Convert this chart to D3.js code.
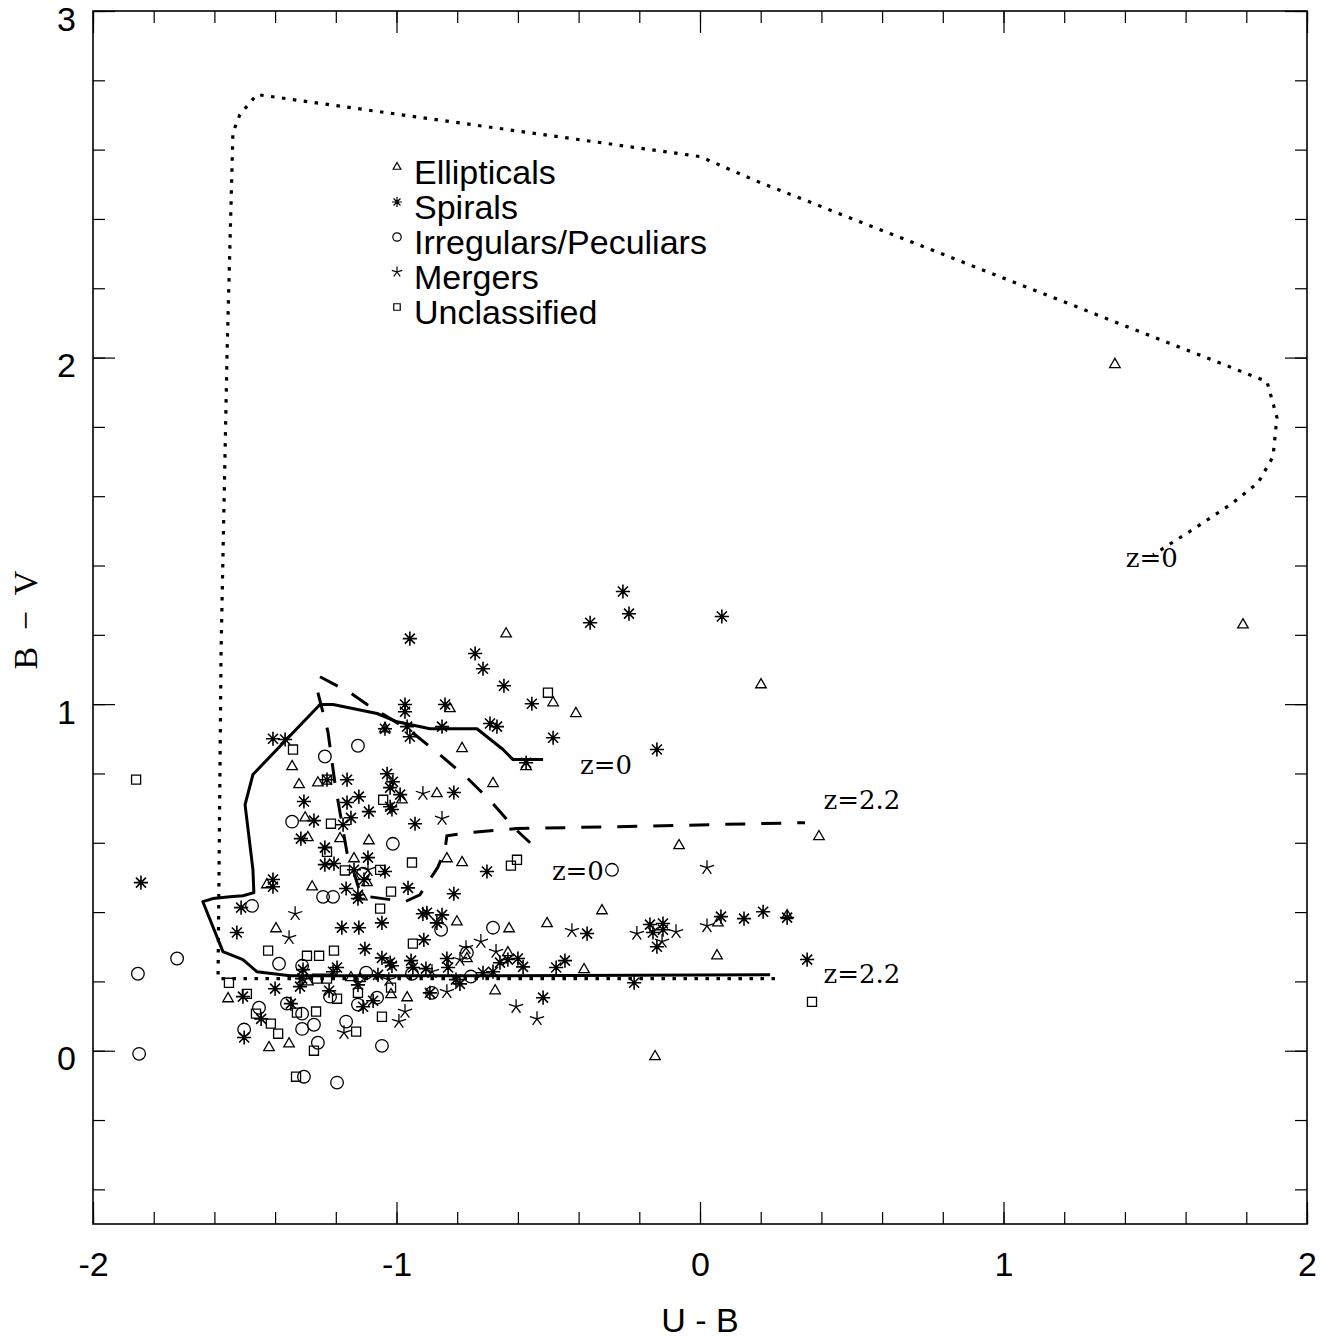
<!DOCTYPE html>
<html>
<head>
<meta charset="utf-8">
<script src="https://cdnjs.cloudflare.com/ajax/libs/d3/7.8.5/d3.min.js"></script>
<style>
  body { margin: 0; background: #fff; }
</style>
</head>
<body>
<div id="chart"></div>
<script>
// points, [U-B, B-V]
var ellipticals = [[1.367,1.980],[1.789,1.229],[0.201,1.056],[-0.639,1.203],[-0.484,1.004],[-0.409,0.973],
  [-0.824,0.987],[-1.038,0.929],[-0.784,0.872],[-0.573,0.820],[-0.682,0.771],[-1.344,0.820],[-1.321,0.768],
  [-1.259,0.773],[-0.982,0.724],[-0.867,0.742],[-1.301,0.672],[-1.292,0.615],[-1.186,0.612],[-1.091,0.606],
  [-1.140,0.554],[-0.834,0.554],[-0.784,0.543],[-1.097,0.485],[-1.427,0.479],[-1.278,0.473],[-1.114,0.444],
  [-1.397,0.352],[-0.801,0.372],[-0.629,0.352],[-0.504,0.367],[-0.323,0.404],[-0.069,0.592],[0.392,0.618],
  [-0.768,0.266],[-0.633,0.283],[-0.382,0.234],[0.059,0.369],[0.287,0.390],[0.056,0.274],[-1.292,0.199],
  [-1.150,0.211],[-1.120,0.208],[-1.555,0.150],[-1.018,0.162],[-0.965,0.153],[-0.675,0.173],[-1.420,0.009],
  [-1.354,0.020],[-0.148,-0.017]];

var spirals = [[-1.842,0.485],[-0.254,1.325],[-0.234,1.261],[0.072,1.253],[-0.362,1.235],[-0.956,1.189],
  [-0.741,1.146],[-0.715,1.102],[-0.646,1.053],[-0.554,1.001],[-0.972,0.999],[-0.972,0.978],[-0.840,0.999],
  [-1.038,0.929],[-0.965,0.935],[-0.956,0.906],[-0.850,0.935],[-0.692,0.944],[-0.669,0.935],[-0.484,0.903],
  [-0.573,0.831],[-0.142,0.869],[-1.407,0.900],[-1.367,0.898],[-1.229,0.782],[-1.163,0.782],[-1.031,0.799],
  [-1.012,0.776],[-1.021,0.759],[-0.988,0.739],[-1.021,0.704],[-1.015,0.696],[-0.811,0.745],[-1.305,0.719],
  [-1.163,0.716],[-1.124,0.733],[-1.091,0.690],[-0.939,0.655],[-1.272,0.664],[-1.176,0.652],[-1.150,0.672],
  [-1.315,0.612],[-1.236,0.586],[-1.094,0.557],[-1.236,0.537],[-1.206,0.540],[-1.140,0.522],[-1.038,0.517],
  [-0.702,0.517],[-1.107,0.494],[-1.407,0.494],[-1.407,0.473],[-1.166,0.468],[-1.127,0.450],[-1.127,0.439],
  [-0.962,0.470],[-0.811,0.453],[-1.512,0.413],[-1.526,0.341],[-1.180,0.355],[-1.124,0.355],[-1.048,0.369],
  [-0.913,0.395],[-0.900,0.398],[-0.850,0.392],[-0.867,0.369],[-0.910,0.320],[-1.104,0.294],[-1.048,0.268],
  [-1.021,0.254],[-1.015,0.245],[-0.952,0.260],[-0.946,0.240],[-0.903,0.237],[-0.834,0.266],[-0.830,0.240],
  [-0.659,0.254],[-0.633,0.263],[-0.600,0.266],[-0.583,0.242],[-0.715,0.225],[-0.682,0.228],[-0.804,0.205],
  [-0.791,0.193],[-0.474,0.240],[-0.445,0.260],[-0.372,0.338],[-0.165,0.364],[-0.122,0.367],[-0.155,0.341],
  [-0.122,0.349],[-0.142,0.300],[0.069,0.387],[0.145,0.381],[0.208,0.401],[0.287,0.384],[0.353,0.263],
  [-0.217,0.196],[-1.308,0.234],[-1.311,0.208],[-1.318,0.185],[-1.209,0.228],[-1.196,0.240],[-1.127,0.190],
  [-1.061,0.219],[-1.506,0.156],[-1.400,0.179],[-1.446,0.092],[-1.502,0.038],[-1.348,0.136],[-1.222,0.173],
  [-1.110,0.127],[-1.077,0.144],[-0.890,0.167],[-0.517,0.153]];

var irregulars = [[-1.852,0.222],[-1.723,0.266],[-1.848,-0.009],[-1.236,0.849],[-1.127,0.880],[-1.344,0.661],
  [-1.012,0.597],[-1.110,0.511],[-1.242,0.444],[-1.209,0.444],[-1.476,0.418],[-0.290,0.522],[-0.853,0.349],
  [-0.682,0.355],[-0.768,0.283],[-0.755,0.214],[-0.949,0.222],[-1.100,0.225],[-1.387,0.251],[-1.311,0.245],
  [-1.361,0.136],[-1.453,0.124],[-1.502,0.061],[-1.311,0.107],[-1.311,0.063],[-1.272,0.075],[-1.259,0.023],
  [-1.305,-0.075],[-1.196,-0.092],[-1.219,0.156],[-1.127,0.133],[-1.064,0.153],[-1.166,0.084],[-1.048,0.014],
  [-0.883,0.167]];

var mergers = [[-0.913,0.742],[-0.850,0.670],[-1.094,0.522],[-1.334,0.395],[-1.354,0.326],[-0.722,0.315],
  [-0.771,0.297],[-0.791,0.263],[-0.672,0.286],[-0.883,0.228],[-0.422,0.346],[-0.208,0.338],[-0.079,0.343],
  [-0.125,0.315],[0.023,0.360],[0.023,0.528],[-1.025,0.205],[-0.972,0.113],[-0.992,0.084],[-0.834,0.170],
  [-1.173,0.052],[-0.606,0.127],[-0.537,0.092]];

var unclassified = [[-1.858,0.782],[-1.341,0.869],[-0.501,1.033],[-1.229,0.782],[-1.044,0.724],[-1.216,0.655],
  [-1.229,0.574],[-0.949,0.543],[-1.170,0.520],[-1.054,0.522],[-1.018,0.459],[-1.054,0.410],[-0.946,0.309],
  [-0.623,0.534],[-0.603,0.551],[-1.423,0.289],[-1.206,0.289],[-1.295,0.274],[-1.255,0.274],[-1.262,0.208],
  [-1.229,0.208],[-1.552,0.196],[-1.493,0.164],[-1.463,0.107],[-1.414,0.078],[-1.390,0.049],[-1.328,0.110],
  [-1.265,0.113],[-1.272,0.000],[-1.331,-0.075],[-1.196,0.150],[-1.127,0.167],[-1.018,0.182],[-1.048,0.098],
  [-1.133,0.055],[0.369,0.141]];

// model tracks
var solidTrack = [[0.231,0.219],[-0.857,0.216],[-1.351,0.216],[-1.460,0.228],[-1.506,0.263],[-1.572,0.286],
  [-1.638,0.430],[-1.605,0.439],[-1.549,0.444],[-1.506,0.447],[-1.470,0.456],[-1.473,0.522],[-1.499,0.710],
  [-1.473,0.797],[-1.252,0.999],[-1.209,0.999],[-1.064,0.973],[-0.998,0.949],[-0.890,0.929],[-0.735,0.929],
  [-0.649,0.869],[-0.616,0.840],[-0.517,0.840]];
var dashTrackA = [[-1.252,1.079],[-1.153,1.033],[-1.097,0.999],[-0.956,0.924],[-0.857,0.854],[-0.768,0.788],
  [-0.685,0.716],[-0.610,0.641],[-0.560,0.600]];
var dashTrackB = [[-1.259,1.033],[-1.226,0.921],[-1.203,0.773],[-1.163,0.571],[-1.143,0.522],[-1.120,0.456],
  [-1.087,0.444],[-0.972,0.430],[-0.923,0.450],[-0.890,0.494],[-0.863,0.531],[-0.840,0.580],[-0.834,0.620],
  [-0.768,0.629],[-0.603,0.641],[-0.297,0.646],[0.346,0.658]];
var dotTrack = [[0.247,0.208],[-1.588,0.208],[-1.578,1.157],[-1.558,2.023],[-1.539,2.649],[-1.516,2.701],
  [-1.460,2.759],[0.000,2.580],[0.198,2.505],[1.868,1.931],[1.901,1.827],[1.888,1.714],[1.839,1.639],
  [1.753,1.579],[1.624,1.504],[1.493,1.431]];

var trackLabels = [["z=0",-0.395,0.798],["z=2.2",0.407,0.697],["z=0",-0.488,0.494],["z=2.2",0.407,0.196],["z=0",1.403,1.397]];

var legendNames = ["Ellipticals","Spirals","Irregulars/Peculiars","Mergers","Unclassified"];
var xTicks = [-2,-1,0,1,2];
var yTicks = [0,1,2,3];

var width = 1337, height = 1340;
var plotLeft = 93, plotRight = 1307, plotTop = 11, plotBottom = 1224;

var x = d3.scaleLinear().domain([-2,2]).range([plotLeft,plotRight]);
var y = d3.scaleLinear().domain([-0.5,3]).range([plotBottom,plotTop]);

var svg = d3.select('#chart').append('svg')
            .attr('width',width)
            .attr('height',height)
            .style('font-family','"Liberation Sans", Arial, sans-serif');

// custom symbols: spoked asterisks
function spokes(n, rot){
  return {
    draw: function(ctx, size){
      var r = Math.sqrt(size);
      for (var i=0; i<n; i++){
        var a = rot + i*2*Math.PI/n;
        ctx.moveTo(0,0);
        ctx.lineTo(r*Math.sin(a), -r*Math.cos(a));
      }
    }
  };
}
var spiralType = spokes(8, 0);
var mergerType = spokes(5, 0);

var kinds = [
  {data: ellipticals, type: d3.symbolTriangle, size: 48, lsize: 26, sw: 1.3},
  {data: spirals, type: spiralType, size: 50, lsize: 24, sw: 1.6},
  {data: irregulars, type: d3.symbolCircle, size: 125, lsize: 55, sw: 1.3},
  {data: mergers, type: mergerType, size: 56, lsize: 30, sw: 1.3},
  {data: unclassified, type: d3.symbolSquare, size: 82, lsize: 42, sw: 1.3}
];

// minor ticks
var minorX = d3.range(-2,2.001,0.2);
var minorY = d3.range(-0.4,3.001,0.2);
svg.append('g').attr('transform','translate(0,'+plotBottom+')')
   .call(d3.axisBottom(x).tickValues(minorX).tickSize(-12).tickFormat(''));
svg.append('g').attr('transform','translate(0,'+plotTop+')')
   .call(d3.axisTop(x).tickValues(minorX).tickSize(-12).tickFormat(''));
svg.append('g').attr('transform','translate('+plotLeft+',0)')
   .call(d3.axisLeft(y).tickValues(minorY).tickSize(-12).tickFormat(''));
svg.append('g').attr('transform','translate('+plotRight+',0)')
   .call(d3.axisRight(y).tickValues(minorY).tickSize(-12).tickFormat(''));

// major ticks
var xAxis = svg.append('g').attr('transform','translate(0,'+plotBottom+')')
   .call(d3.axisBottom(x).tickValues(xTicks).tickSize(-22).tickPadding(28).tickFormat(function(d){ return String(d); }));
svg.append('g').attr('transform','translate(0,'+plotTop+')')
   .call(d3.axisTop(x).tickValues(xTicks).tickSize(-22).tickFormat(''));
var yAxis = svg.append('g').attr('transform','translate('+plotLeft+',0)')
   .call(d3.axisLeft(y).tickValues(yTicks).tickSize(-22).tickPadding(17).tickFormat(function(d){ return String(d); }));
svg.append('g').attr('transform','translate('+plotRight+',0)')
   .call(d3.axisRight(y).tickValues(yTicks).tickSize(-22).tickFormat(''));

svg.selectAll('.domain').remove();
svg.selectAll('.tick line').attr('stroke','#000').attr('stroke-width',1.2);
xAxis.selectAll('text').attr('font-size','34px').attr('fill','#000')
     .attr('font-family','"Liberation Sans", Arial, sans-serif');
yAxis.selectAll('text').attr('font-size','34px').attr('fill','#000').attr('dy','0.56em')
     .attr('font-family','"Liberation Sans", Arial, sans-serif');

svg.append('rect')
   .attr('x',plotLeft).attr('y',plotTop)
   .attr('width',plotRight-plotLeft).attr('height',plotBottom-plotTop)
   .attr('fill','none').attr('stroke','#000').attr('stroke-width',1.6);

// axis titles
svg.append('text')
   .attr('x',(plotLeft+plotRight)/2).attr('y',1332)
   .attr('text-anchor','middle')
   .attr('font-size','34px')
   .text('U - B');
svg.append('text')
   .attr('transform','translate(37,618) rotate(-90)')
   .attr('text-anchor','middle')
   .attr('font-family','"Liberation Serif", "DejaVu Serif", serif')
   .attr('font-size','34px')
   .attr('letter-spacing','4px')
   .text('B \u2212 V');

// tracks
var line = d3.line().x(function(d){ return x(d[0]); }).y(function(d){ return y(d[1]); });
svg.append('path').datum(dotTrack).attr('d',line)
   .attr('fill','none').attr('stroke','#000').attr('stroke-width',3.2).attr('stroke-dasharray','3.5,7.5');
svg.append('path').datum(solidTrack).attr('d',line)
   .attr('fill','none').attr('stroke','#000').attr('stroke-width',3).attr('stroke-linejoin','round');
svg.append('path').datum(dashTrackA).attr('d',line)
   .attr('fill','none').attr('stroke','#000').attr('stroke-width',3).attr('stroke-dasharray','20,16');
svg.append('path').datum(dashTrackB).attr('d',line)
   .attr('fill','none').attr('stroke','#000').attr('stroke-width',3).attr('stroke-dasharray','20,16');

svg.selectAll('.zlabel').data(trackLabels).enter().append('text')
   .attr('class','zlabel')
   .attr('x',function(d){ return x(d[1]); })
   .attr('y',function(d){ return y(d[2]); })
   .attr('font-family','"DejaVu Serif", "Liberation Serif", serif')
   .attr('font-size','26px')
   .text(function(d){ return d[0]; });

// points
kinds.forEach(function(k){
  svg.append('g').selectAll('path').data(k.data).enter().append('path')
     .attr('transform',function(d){ return 'translate('+x(d[0])+','+y(d[1])+')'; })
     .attr('d',d3.symbol().type(k.type).size(k.size))
     .attr('fill','none')
     .attr('stroke','#000')
     .attr('stroke-width',k.sw);
});

// legend
var legend = svg.append('g');
legendNames.forEach(function(name,i){
  var ly = 184 + i*35;
  legend.append('path')
        .attr('transform','translate(397,'+(ly-17)+')')
        .attr('d',d3.symbol().type(kinds[i].type).size(kinds[i].lsize))
        .attr('fill','none').attr('stroke','#000').attr('stroke-width',1.2);
  legend.append('text')
        .attr('x',414).attr('y',ly)
        .attr('font-size','34px')
        .text(name);
});
</script>
</body>
</html>
